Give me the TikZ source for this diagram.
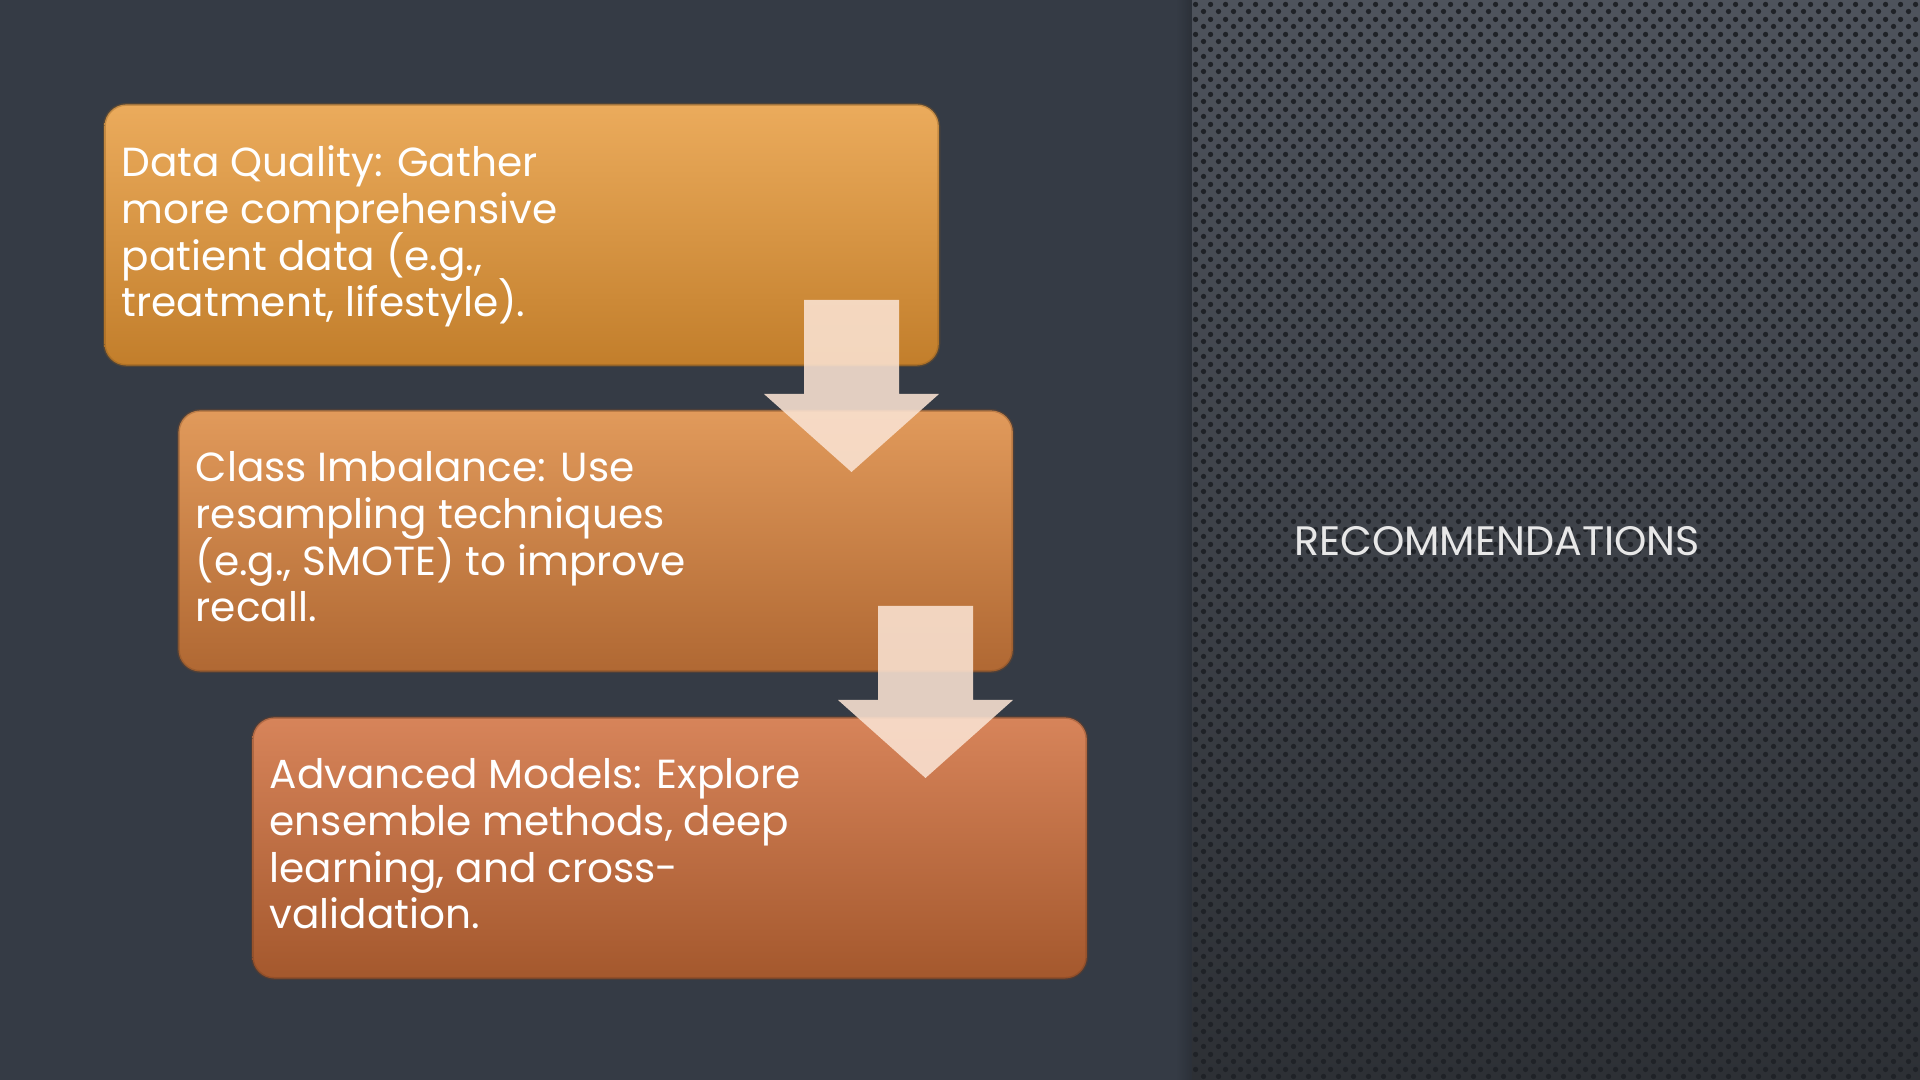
\documentclass[tikz,border=0pt]{standalone}
\usepackage{fontspec}
\setmainfont{Poppins}
\usetikzlibrary{patterns}
\definecolor{bgdark}{HTML}{353B45}
\definecolor{bgshadow}{HTML}{2B3038}
\definecolor{panelTop}{HTML}{4E535C}
\definecolor{panelBot}{HTML}{2D3035}
\definecolor{dotc}{HTML}{1F2227}
\definecolor{bAtop}{HTML}{EBAB5C}
\definecolor{bAbot}{HTML}{C27E2B}
\definecolor{bBtop}{HTML}{E19A5B}
\definecolor{bBbot}{HTML}{B06833}
\definecolor{bCtop}{HTML}{D7845A}
\definecolor{bCbot}{HTML}{A4582D}
\definecolor{arrowc}{HTML}{FAE3D3}
\definecolor{titlec}{HTML}{E8E8E8}
\pgfdeclarepatternformonly{hexdots}{\pgfqpoint{0pt}{0pt}}{\pgfqpoint{4.268pt}{4.268pt}}{\pgfqpoint{4.268pt}{4.268pt}}{%
  \pgfpathcircle{\pgfqpoint{1.067pt}{1.067pt}}{0.8pt}%
  \pgfpathcircle{\pgfqpoint{3.201pt}{3.201pt}}{0.8pt}%
  \pgfusepath{fill}}
\tikzset{
  stepbox/.style={rounded corners=0.22cm, minimum width=8.34cm, minimum height=2.61cm,
    anchor=north west, inner sep=0pt, draw=#1, draw opacity=0.35, line width=0.8pt},
  txt/.style={font={\fontsize{11.55pt}{13.29pt}\selectfont\lineskiplimit=-100pt\lineskip=0pt},
    text=white, align=left, inner sep=0pt, anchor=north west},
  blockarrow/.style={fill=arrowc, fill opacity=0.88},
}
\begin{document}
\begin{tikzpicture}[x=0.01cm, y=-0.01cm]
\useasboundingbox (0,0) rectangle (1920,1080);
% backgrounds
\fill[bgdark] (0,0) rectangle (1920,1080);
\shade[left color=bgdark, right color=bgshadow] (1176,0) rectangle (1192,1080);
\shade[top color=panelTop, bottom color=panelBot] (1192,0) rectangle (1920,1080);
\fill[pattern=hexdots, pattern color=dotc] (1192,0) rectangle (1920,1080);
% boxes
\node[stepbox=bAbot!70!black, top color=bAtop, bottom color=bAbot] (b1) at (103,103) {};
\node[stepbox=bBbot!70!black, top color=bBtop, bottom color=bBbot] (b2) at (177,409) {};
\node[stepbox=bCbot!70!black, top color=bCtop, bottom color=bCbot] (b3) at (251,716) {};
% texts
\node[txt] (t1) at (121,145) {Data Quality: Gather\\more comprehensive\\patient data (e.g.,\\treatment, lifestyle).};
\node[txt] (t2) at (195,451) {Class Imbalance: Use\\resampling techniques\\(e.g., SMOTE) to improve\\recall.};
\node[txt] (t3) at (269,758) {Advanced Models: Explore\\ensemble methods, deep\\learning, and cross-\\validation.};
% arrows
\fill[blockarrow] (804,300) -- (899,300) -- (899,394) -- (939,394) -- (851.5,472) -- (764,394) -- (804,394) -- cycle;
\fill[blockarrow] (878,606) -- (973,606) -- (973,700) -- (1013,700) -- (925.5,778) -- (838,700) -- (878,700) -- cycle;
% title
\node[font=\fontsize{11.7pt}{13pt}\selectfont, text=titlec, inner sep=0pt] (title) at (1497,541) {RECOMMENDATIONS};
\end{tikzpicture}
\end{document}
